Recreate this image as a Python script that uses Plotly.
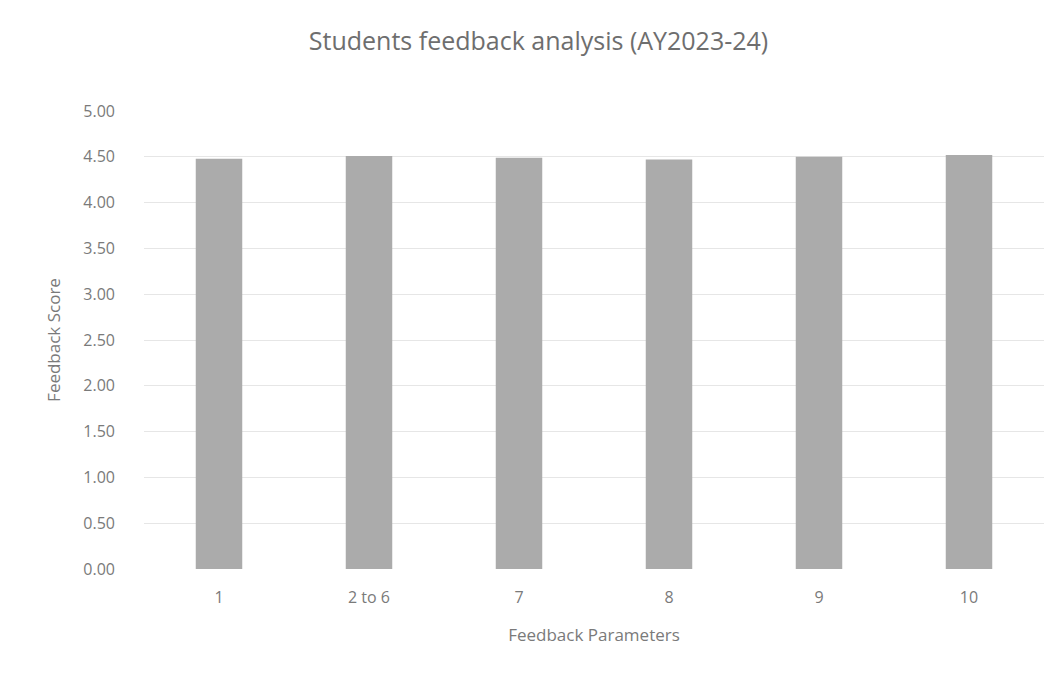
import plotly.graph_objects as go

categories = ["1", "2 to 6", "7", "8", "9", "10"]
scores = [4.48, 4.51, 4.49, 4.47, 4.50, 4.52]
y_ticks = [0, 0.5, 1.0, 1.5, 2.0, 2.5, 3.0, 3.5, 4.0, 4.5, 5.0]

fig = go.Figure(go.Bar(
    x=categories, y=scores,
    marker=dict(color="#ababab", line=dict(width=0)),
    width=0.31,
))

font_fam = "Open Sans, Liberation Sans, sans-serif"
fig.update_layout(
    width=1061, height=684,
    paper_bgcolor="white", plot_bgcolor="white",
    margin=dict(l=136, r=25, t=103, b=123),
    title=dict(text="Students feedback analysis (AY2023-24)", x=0.5, xanchor="center",
               y=0.952, yanchor="middle",
               font=dict(family=font_fam, size=25, color="#6e6e6e")),
    font=dict(family=font_fam, color="#7a7a7a"),
    showlegend=False,
    bargap=0.69,
)
fig.update_xaxes(
    type="category", showgrid=False, zeroline=False, showline=False,
    tickfont=dict(size=16, color="#7a7a7a"), ticks="", ticklabelstandoff=17,
    title=dict(text="Feedback Parameters", font=dict(size=17, color="#7a7a7a"), standoff=22),
)
fig.update_yaxes(
    range=[0, 5.0], tickvals=y_ticks, tickformat=".2f",
    showgrid=True, gridcolor="#e6e6e6", gridwidth=1, zeroline=False,
    tickfont=dict(size=16, color="#7a7a7a"), ticks="", ticklabelstandoff=28,
    title=dict(text="Feedback Score", font=dict(size=17, color="#7a7a7a"), standoff=18),
)

fig.write_html("out.html")
